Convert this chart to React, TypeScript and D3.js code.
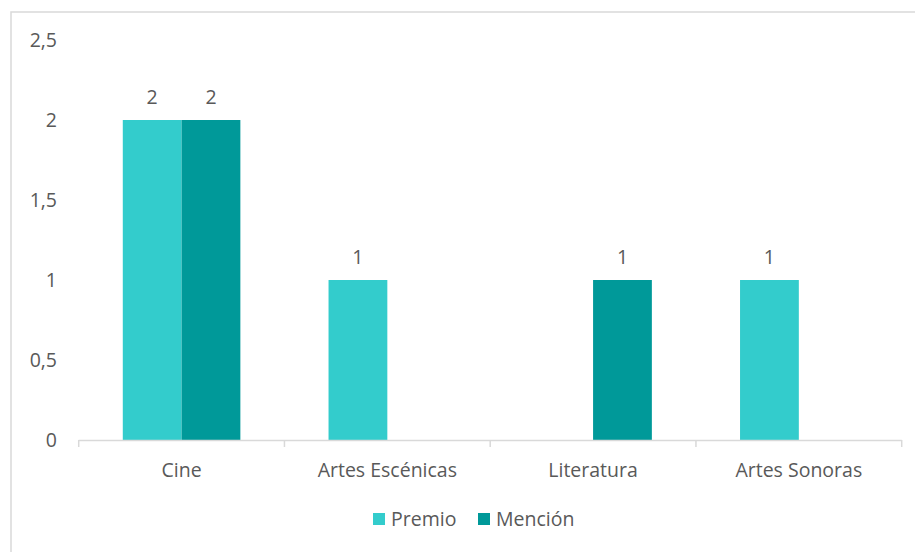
import React from "react";
import * as d3 from "d3";

const categories = ["Cine", "Artes Escénicas", "Literatura", "Artes Sonoras"];
const premio = [2, 1, 0, 1];
const mencion = [2, 0, 1, 0];
const seriesNames = ["Premio", "Mención"];
const seriesColors = ["#33CCCC", "#009999"];
const yTicks = [0, 0.5, 1, 1.5, 2, 2.5];

const W = 915, H = 552;
const FONT = "'Open Sans', 'Noto Sans', sans-serif";
const TEXT = "#595959";
const FS = 19.5;

export default function App() {
  const x0 = 78.7, x1 = 901.7, yBase = 440, yTop = 40;
  const x = d3.scaleBand().domain(categories).range([x0, x1]).paddingInner(0).paddingOuter(0);
  const y = d3.scaleLinear().domain([0, 2.5]).range([yBase, yTop]);
  const bw = x.bandwidth();
  const barW = bw / 3.5;
  const xs = d3.scaleBand().domain(seriesNames).range([0, barW * 2]);
  const data = [premio, mencion];
  const fmt = (v: number) => String(v).replace(".", ",");
  return (
    <svg width={W} height={H} style={{ position: "absolute", left: 0, top: 0, background: "#fff" }}>
      <rect x={11} y={12} width={W + 10} height={H + 10} fill="#fff" stroke="#D9D9D9" strokeWidth={1.5} />
      {yTicks.map((t) => (
        <text key={t} x={57} y={y(t)} dy="0.35em" textAnchor="end" fontFamily={FONT} fontSize={FS} fill={TEXT}>
          {fmt(t)}
        </text>
      ))}
      {categories.map((c, i) =>
        data.map((s, j) => {
          const v = s[i];
          if (!v) return null;
          const bx = (x(c) as number) + (bw - barW * 2) / 2 + (xs(seriesNames[j]) as number);
          return (
            <g key={c + j}>
              <rect x={bx} y={y(v)} width={barW} height={yBase - y(v)} fill={seriesColors[j]} />
              <text x={bx + barW / 2} y={y(v) - 23} dy="0.35em" textAnchor="middle" fontFamily={FONT} fontSize={FS} fill={TEXT}>
                {fmt(v)}
              </text>
            </g>
          );
        })
      )}
      <line x1={x0} x2={x1} y1={yBase + 0.5} y2={yBase + 0.5} stroke="#D9D9D9" strokeWidth={1.5} />
      {[...categories.map((c) => x(c) as number), x1].map((t, i) => (
        <line key={i} x1={t} x2={t} y1={yBase} y2={yBase + 7} stroke="#D9D9D9" strokeWidth={1.5} />
      ))}
      {categories.map((c) => (
        <text key={c} x={(x(c) as number) + bw / 2} y={470} dy="0.35em" textAnchor="middle" fontFamily={FONT} fontSize={FS} fill={TEXT}>
          {c}
        </text>
      ))}
      {seriesNames.map((n, j) => {
        const lx = j === 0 ? 373 : 478;
        return (
          <g key={n}>
            <rect x={lx} y={513} width={12} height={12} fill={seriesColors[j]} />
            <text x={lx + 18} y={519} dy="0.35em" fontFamily={FONT} fontSize={FS} fill={TEXT}>
              {n}
            </text>
          </g>
        );
      })}
    </svg>
  );
}
